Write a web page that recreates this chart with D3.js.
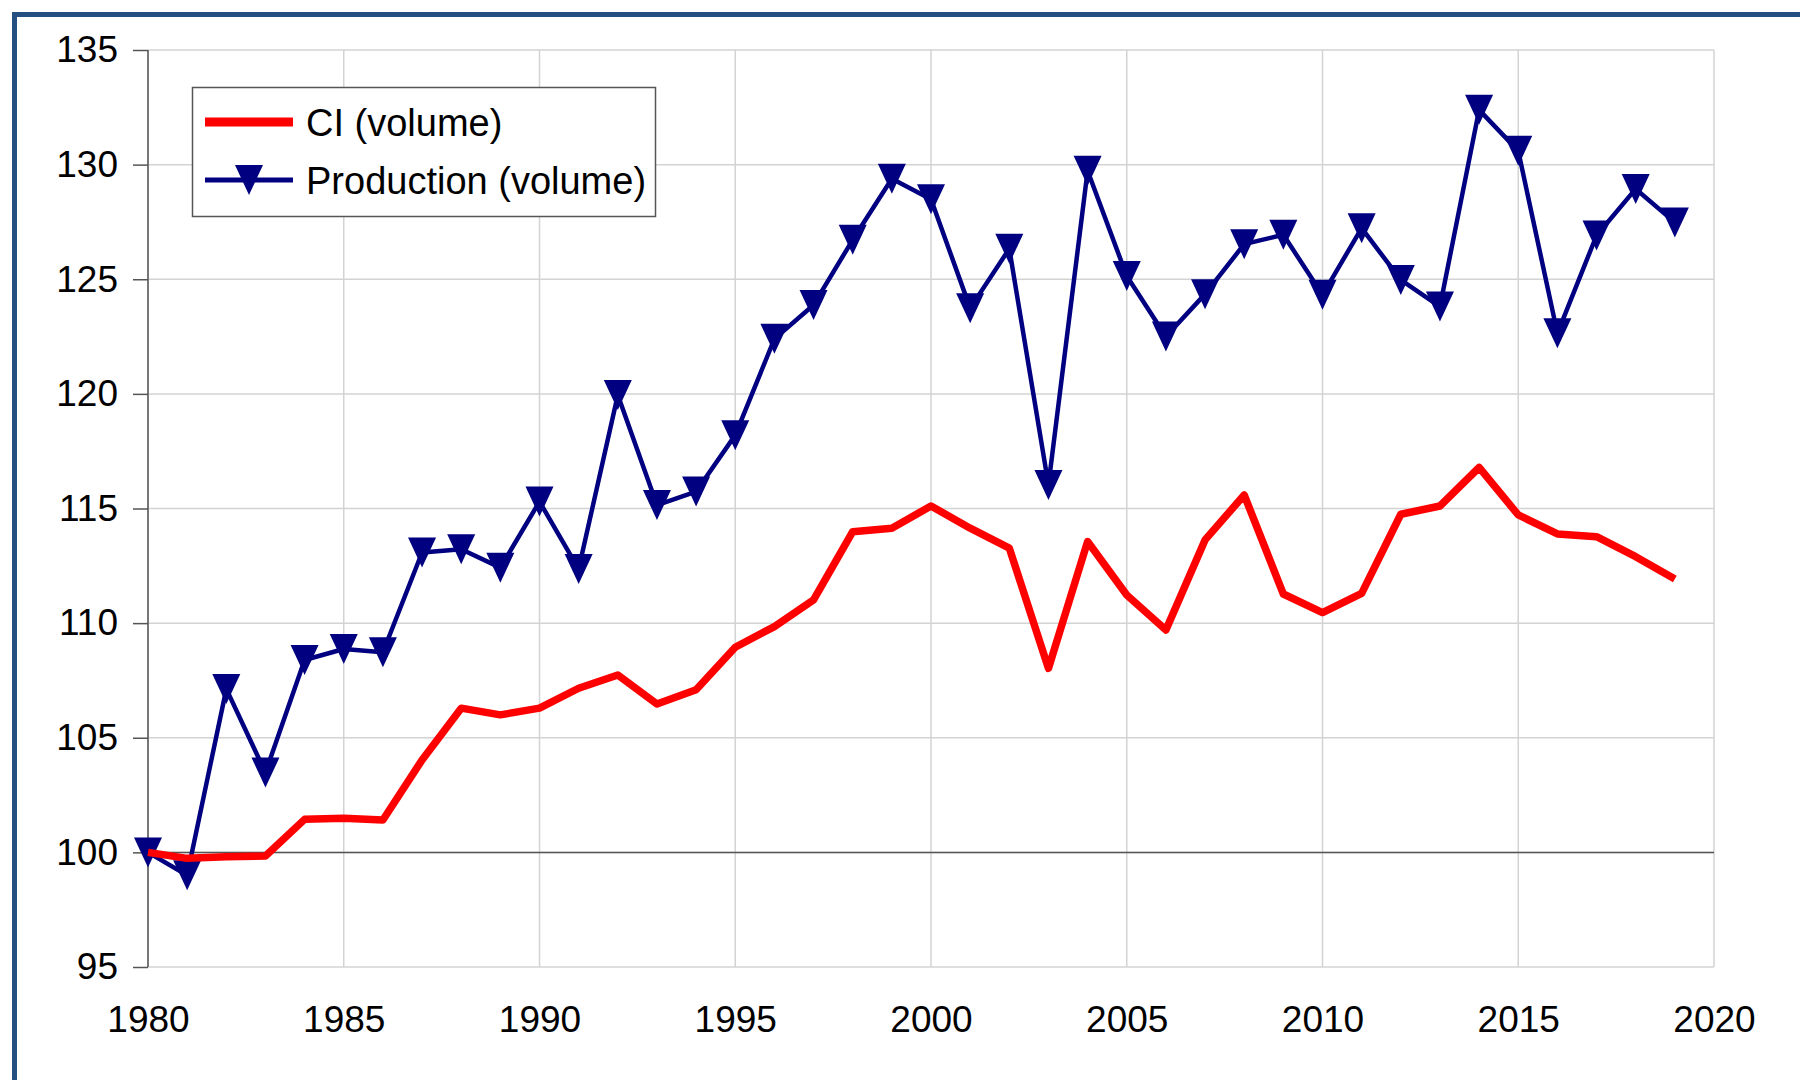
<!DOCTYPE html>
<html lang="en">

<head>
	<meta charset="utf-8">
	<title>CI and production volume</title>
	<style>
		html, body {
			margin: 0;
			padding: 0;
			background: #fff;
		}

		svg {
			display: block;
			font-family: "Liberation Sans", Arial, sans-serif;
		}

		.grid line {
			stroke: #d3d3d3;
			stroke-width: 1.5px;
		}

		.tick text {
			font-size: 37px;
			fill: #000;
		}
	</style>
</head>

<body>
	<svg></svg>

	<script src="https://d3js.org/d3.v7.min.js"></script>
	<script>
		(function() {

			var years = d3.range(1980, 2020);

			var ciVolume = [
				100.0, 99.74, 99.81, 99.84, 101.44, 101.49, 101.41, 104.03, 106.29, 106.0,
				106.29, 107.16, 107.74, 106.47, 107.09, 108.95, 109.85, 111.01, 113.99, 114.14,
				115.11, 114.14, 113.27, 108.03, 113.56, 111.23, 109.7, 113.63, 115.59, 111.27,
				110.46, 111.3, 114.75, 115.11, 116.79, 114.72, 113.89, 113.77, 112.9, 111.92
			];

			var productionVolume = [
				100.0, 99.0, 107.13, 103.48, 108.39, 108.87, 108.73, 113.08, 113.22, 112.42,
				115.3, 112.36, 119.95, 115.15, 115.74, 118.2, 122.4, 123.88, 126.72, 129.38,
				128.49, 123.74, 126.33, 116.03, 129.73, 125.14, 122.5, 124.35, 126.53, 126.94,
				124.32, 127.23, 124.97, 123.81, 132.39, 130.6, 122.64, 126.91, 128.94, 127.48
			];

			var xTicks = [1980, 1985, 1990, 1995, 2000, 2005, 2010, 2015, 2020];
			var yTicks = [95, 100, 105, 110, 115, 120, 125, 130, 135];

			var seriesNames = ["CI (volume)", "Production (volume)"];

			var width = 1800,
				height = 1080;

			var svg = d3.select("svg")
				.attr("width", width)
				.attr("height", height);

			// frame round the whole chart (right and bottom run off the picture)
			svg.append("rect")
				.attr("x", 14.5)
				.attr("y", 14.5)
				.attr("width", width + 20)
				.attr("height", height + 20)
				.attr("fill", "none")
				.attr("stroke", "#254f80")
				.attr("stroke-width", 5);

			var x = d3.scaleLinear().domain([1980, 2020]).range([148, 1714]);
			var y = d3.scaleLinear().domain([95, 135]).range([967, 50]);

			// grid
			var grid = svg.append("g").attr("class", "grid");

			grid.selectAll("line.h")
				.data(yTicks)
				.enter().append("line")
				.attr("class", "h")
				.attr("x1", x(1980))
				.attr("x2", x(2020))
				.attr("y1", function(d) { return y(d); })
				.attr("y2", function(d) { return y(d); });

			grid.selectAll("line.v")
				.data(xTicks)
				.enter().append("line")
				.attr("class", "v")
				.attr("y1", y(95))
				.attr("y2", y(135))
				.attr("x1", function(d) { return x(d); })
				.attr("x2", function(d) { return x(d); });

			// y axis on the left, ticks outside
			var yAxis = svg.append("g")
				.attr("transform", "translate(" + x(1980) + ",0)")
				.call(d3.axisLeft(y).tickValues(yTicks).tickSize(15).tickPadding(15));
			yAxis.selectAll("path, line").attr("stroke", "#555").attr("stroke-width", 1.5);
			yAxis.select(".domain").attr("d", "M0," + y(95) + "V" + y(135));

			// x axis labels at the bottom, no tick marks
			var xAxis = svg.append("g")
				.attr("transform", "translate(0," + y(95) + ")")
				.call(d3.axisBottom(x).tickValues(xTicks).tickFormat(d3.format("d")).tickSize(0).tickPadding(39));
			xAxis.select(".domain").remove();

			// x axis line crossing at 100
			svg.append("line")
				.attr("x1", x(1980))
				.attr("x2", x(2020))
				.attr("y1", y(100))
				.attr("y2", y(100))
				.attr("stroke", "#555")
				.attr("stroke-width", 1.5);

			var line = function(values) {
				return d3.line()
					.x(function(d, i) { return x(years[i]); })
					.y(function(d) { return y(d); })(values);
			};

			var triangle = "M-14,-15L14,-15L0,15Z";

			// production series with markers
			svg.append("path")
				.attr("d", line(productionVolume))
				.attr("fill", "none")
				.attr("stroke", "#000080")
				.attr("stroke-width", 4.5)
				.attr("stroke-linejoin", "round");

			svg.append("g")
				.selectAll("path")
				.data(productionVolume)
				.enter().append("path")
				.attr("d", triangle)
				.attr("fill", "#000080")
				.attr("transform", function(d, i) {
					return "translate(" + x(years[i]) + "," + y(d) + ")";
				});

			// CI series
			svg.append("path")
				.attr("d", line(ciVolume))
				.attr("fill", "none")
				.attr("stroke", "#ff0000")
				.attr("stroke-width", 7.5)
				.attr("stroke-linejoin", "round");

			// legend
			var legend = svg.append("g");

			legend.append("rect")
				.attr("x", 192.5)
				.attr("y", 87.5)
				.attr("width", 463)
				.attr("height", 129)
				.attr("fill", "#fff")
				.attr("stroke", "#555")
				.attr("stroke-width", 1.5);

			legend.append("line")
				.attr("x1", 205)
				.attr("x2", 293)
				.attr("y1", 122)
				.attr("y2", 122)
				.attr("stroke", "#ff0000")
				.attr("stroke-width", 9);

			legend.append("line")
				.attr("x1", 205)
				.attr("x2", 293)
				.attr("y1", 180)
				.attr("y2", 180)
				.attr("stroke", "#000080")
				.attr("stroke-width", 5);

			legend.append("path")
				.attr("d", triangle)
				.attr("fill", "#000080")
				.attr("transform", "translate(249,180)");

			legend.selectAll("text")
				.data(seriesNames)
				.enter().append("text")
				.attr("x", 306)
				.attr("y", function(d, i) { return 136 + i * 58; })
				.attr("font-size", 38)
				.attr("fill", "#000")
				.text(function(d) { return d; });

		})();
	</script>
</body>

</html>
